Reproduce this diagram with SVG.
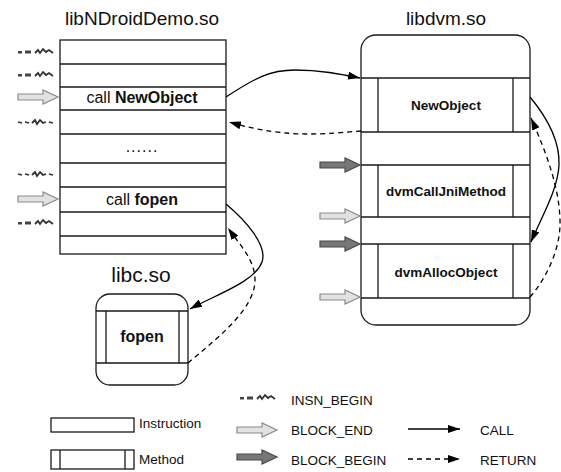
<svg xmlns="http://www.w3.org/2000/svg" xmlns:xlink="http://www.w3.org/1999/xlink" width="561" height="472" viewBox="0 0 561 472">
<style>
text{font-family:"Liberation Sans",Arial,Helvetica,sans-serif;fill:#111}
.title{font-size:19px;text-anchor:middle}
.lt{font-size:21px;text-anchor:middle}
.ins{font-size:16px;text-anchor:middle}
.meth{font-size:13.5px;font-weight:bold;text-anchor:middle}
.leg{font-size:13.5px}
.box{fill:#fff;stroke:#1a1a1a;stroke-width:1.3}
.ln{stroke:#1a1a1a;stroke-width:1.3;fill:none}
.call{stroke:#000;stroke-width:1.3;fill:none;marker-end:url(#ah)}
.ret{stroke:#000;stroke-width:1.3;fill:none;stroke-dasharray:5 4;marker-end:url(#ah)}
.la{fill:#e2e2e2;stroke:#8a8a8a;stroke-width:1.2}
.da{fill:#777;stroke:#4a4a4a;stroke-width:1.2}
.zz{fill:none;stroke:#333;stroke-width:1.8}
</style>
<defs>
<marker id="ah" viewBox="0 0 12 8" refX="12" refY="4" markerWidth="12" markerHeight="8" orient="auto" markerUnits="userSpaceOnUse"><path d="M0,0 L12,4 L0,8 z" fill="#000"/></marker>
<path id="lightArrow" class="la" d="M0,-3 H25 V-7 L40,0 L25,7 V3 H0 Z"/>
<path id="darkArrow" class="da" d="M0,-3 H25 V-7 L40,0 L25,7 V3 H0 Z"/>
<g id="insnA"><rect x="0" y="-1" width="4" height="2.5" fill="#444"/><rect x="7" y="-1.5" width="6" height="3" fill="#444"/><path class="zz" d="M17,1 L20,-2 L22,1 L25,-3 L28,0 L31,-2 L35,1"/></g>
<g id="insnB"><path class="zz" stroke-width="1.4" d="M0,0 L4,1 M7,0 L11,1"/><path class="zz" d="M14,1 L17,-2 L19,2 L22,-2 L25,1 L28,0"/><path class="zz" stroke-width="1.2" d="M31,0 L35,1"/></g>
</defs>
<rect width="561" height="472" fill="#fff"/>

<g id="libNDroidDemo">
<text class="title" x="142" y="25">libNDroidDemo.so</text>
<rect class="box" x="60" y="40" width="166" height="214"/>
<path class="ln" d="M60,64 H226 M60,87 H226 M60,110 H226 M60,134 H226 M60,163 H226 M60,187 H226 M60,212 H226 M60,236 H226"/>
<text class="ins" x="142" y="103">call <tspan font-weight="bold">NewObject</tspan></text>
<text class="ins" x="142" y="152" letter-spacing="1">......</text>
<text class="ins" x="142" y="205">call <tspan font-weight="bold">fopen</tspan></text>
<use xlink:href="#insnA" x="18" y="52"/>
<use xlink:href="#insnA" x="18" y="75"/>
<use xlink:href="#lightArrow" x="18" y="97"/>
<use xlink:href="#insnB" x="18" y="122"/>
<use xlink:href="#insnB" x="18" y="174"/>
<use xlink:href="#lightArrow" x="18" y="199"/>
<use xlink:href="#insnA" x="18" y="223"/>
</g>

<g id="libdvm">
<text class="title" x="446" y="25">libdvm.so</text>
<rect class="box" x="361" y="35" width="169" height="290" rx="15" ry="15"/>
<path class="ln" d="M361,78 H530 M361,132 H530 M361,165 H530 M361,217 H530 M361,244 H530 M361,298 H530"/>
<path class="ln" d="M378,78 V132 M513,78 V132 M378,165 V217 M513,165 V217 M378,244 V298 M513,244 V298"/>
<text class="meth" x="446" y="110">NewObject</text>
<text class="meth" x="446" y="196">dvmCallJniMethod</text>
<text class="meth" x="446" y="277">dvmAllocObject</text>
<use xlink:href="#darkArrow" x="320" y="165"/>
<use xlink:href="#lightArrow" x="320" y="216"/>
<use xlink:href="#darkArrow" x="320" y="244"/>
<use xlink:href="#lightArrow" x="320" y="297"/>
</g>

<g id="libc">
<text class="lt" x="141" y="282">libc.so</text>
<rect class="box" x="96" y="294" width="92" height="91" rx="14" ry="14"/>
<path class="ln" d="M96,311 H188 M96,363 H188 M106,311 V363 M179,311 V363"/>
<text class="meth" font-size="16" style="font-size:16px" x="142" y="342">fopen</text>
</g>

<g id="connectors">
<path class="call" d="M226,97 C255,78 270,70 295,70 C320,70 340,74 360,78"/>
<path class="ret" d="M361,131 C330,133 290,140 229,122"/>
<path class="call" d="M530,97 C545,115 560,140 559,165 C558,190 540,220 531,242"/>
<path class="ret" d="M530,297 C545,280 561,250 560,220 C559,185 545,150 531,118"/>
<path class="call" d="M226,204 C245,220 268,245 262,262 C255,282 215,295 190,309"/>
<path class="ret" d="M188,363 C215,340 255,310 255,280 C255,260 240,245 228,228"/>
</g>

<g id="legend">
<rect class="box" x="51" y="418" width="83" height="14"/>
<text class="leg" x="139" y="428">Instruction</text>
<rect class="box" x="51" y="450" width="83" height="19"/>
<path class="ln" d="M60,450 V469 M125,450 V469"/>
<text class="leg" x="139" y="464">Method</text>
<use xlink:href="#insnA" x="240" y="398"/>
<text class="leg" x="291" y="405">INSN_BEGIN</text>
<use xlink:href="#lightArrow" x="237" y="430"/>
<text class="leg" x="291" y="435">BLOCK_END</text>
<use xlink:href="#darkArrow" x="237" y="457"/>
<text class="leg" x="291" y="465">BLOCK_BEGIN</text>
<path class="call" d="M408,429 H460"/>
<text class="leg" x="480" y="435">CALL</text>
<path class="ret" d="M408,459 H460"/>
<text class="leg" x="480" y="465">RETURN</text>
</g>
</svg>
